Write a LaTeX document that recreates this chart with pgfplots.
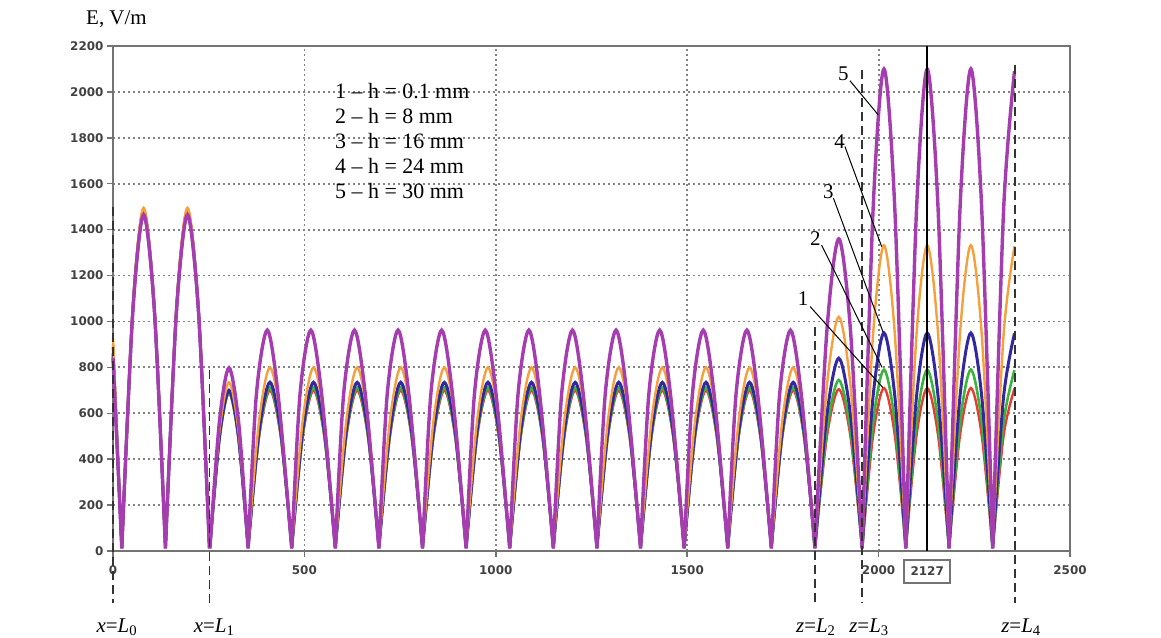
\documentclass[border=0pt]{standalone}
\usepackage{fontspec}
\setmainfont{Liberation Serif}
\newfontfamily\tickfont{DejaVu Sans}
\usepackage{pgfplots}
\pgfplotsset{compat=1.18}
\usepackage{pgfplotstable}

\definecolor{cr}{RGB}{230,60,50}
\definecolor{cg}{RGB}{60,180,60}
\definecolor{cb}{RGB}{50,40,160}
\definecolor{co}{RGB}{245,160,60}
\definecolor{cp}{RGB}{165,60,175}
\definecolor{gridgray}{RGB}{130,130,130}
\definecolor{axgray}{RGB}{115,115,115}
\definecolor{tickgray}{RGB}{65,65,65}

\pgfplotstableread{
x xp r g b o p
0 0 900 885 860 930 840
23 23 12 12 12 12 12
nan nan nan nan nan nan nan
23 23 12 12 12 12 12
51.5 51.5 1053 1046 1039 1057 1036
80 80 1490 1480 1470 1495 1465
108.5 108.5 1053 1046 1039 1057 1036
137 137 12 12 12 12 12
nan nan nan nan nan nan nan
137 137 12 12 12 12 12
165.5 165.5 1053 1046 1039 1057 1036
194.5 194.5 1490 1480 1470 1495 1465
223.5 223.5 1053 1046 1039 1057 1036
252 252 12 12 12 12 12
nan nan nan nan nan nan nan
253 253 12 12 12 12 12
278 278 486 488 495 520 564
303 303 688 690 700 735 798
328 328 486 488 495 520 564
353 353 12 12 12 12 12
nan nan nan nan nan nan nan
353.0 353.0 12 12 12 12 12
381.5 374.5 495 503 520 566 680
410.0 403.0 700 712 735 800 962
438.4 431.4 495 503 520 566 680
466.9 466.9 12 12 12 12 12
nan nan nan nan nan nan nan
466.9 466.9 12 12 12 12 12
495.4 488.4 495 503 520 566 680
523.9 516.9 700 712 735 800 962
552.3 545.3 495 503 520 566 680
580.8 580.8 12 12 12 12 12
nan nan nan nan nan nan nan
580.8 580.8 12 12 12 12 12
609.3 602.3 495 503 520 566 680
637.8 630.8 700 712 735 800 962
666.2 659.2 495 503 520 566 680
694.7 694.7 12 12 12 12 12
nan nan nan nan nan nan nan
694.7 694.7 12 12 12 12 12
723.2 716.2 495 503 520 566 680
751.7 744.7 700 712 735 800 962
780.1 773.1 495 503 520 566 680
808.6 808.6 12 12 12 12 12
nan nan nan nan nan nan nan
808.6 808.6 12 12 12 12 12
837.1 830.1 495 503 520 566 680
865.6 858.6 700 712 735 800 962
894.0 887.0 495 503 520 566 680
922.5 922.5 12 12 12 12 12
nan nan nan nan nan nan nan
922.5 922.5 12 12 12 12 12
951.0 944.0 495 503 520 566 680
979.5 972.5 700 712 735 800 962
1007.9 1000.9 495 503 520 566 680
1036.4 1036.4 12 12 12 12 12
nan nan nan nan nan nan nan
1036.4 1036.4 12 12 12 12 12
1064.9 1057.9 495 503 520 566 680
1093.4 1086.4 700 712 735 800 962
1121.8 1114.8 495 503 520 566 680
1150.3 1150.3 12 12 12 12 12
nan nan nan nan nan nan nan
1150.3 1150.3 12 12 12 12 12
1178.8 1171.8 495 503 520 566 680
1207.3 1200.3 700 712 735 800 962
1235.7 1228.7 495 503 520 566 680
1264.2 1264.2 12 12 12 12 12
nan nan nan nan nan nan nan
1264.2 1264.2 12 12 12 12 12
1292.7 1285.7 495 503 520 566 680
1321.2 1314.2 700 712 735 800 962
1349.6 1342.6 495 503 520 566 680
1378.1 1378.1 12 12 12 12 12
nan nan nan nan nan nan nan
1378.1 1378.1 12 12 12 12 12
1406.6 1399.6 495 503 520 566 680
1435.1 1428.1 700 712 735 800 962
1463.5 1456.5 495 503 520 566 680
1492.0 1492.0 12 12 12 12 12
nan nan nan nan nan nan nan
1492.0 1492.0 12 12 12 12 12
1520.5 1513.5 495 503 520 566 680
1549.0 1542.0 700 712 735 800 962
1577.4 1570.4 495 503 520 566 680
1605.9 1605.9 12 12 12 12 12
nan nan nan nan nan nan nan
1605.9 1605.9 12 12 12 12 12
1634.4 1627.4 495 503 520 566 680
1662.9 1655.9 700 712 735 800 962
1691.3 1684.3 495 503 520 566 680
1719.8 1719.8 12 12 12 12 12
nan nan nan nan nan nan nan
1719.8 1719.8 12 12 12 12 12
1748.3 1741.3 495 503 520 566 680
1776.8 1769.8 700 712 735 800 962
1805.2 1798.2 495 503 520 566 680
1833.7 1833.7 12 12 12 12 12
nan nan nan nan nan nan nan
1833.7 1833.7 12 12 12 12 12
1865.0 1865.0 498 527 594 721 962
1896.0 1896.0 705 745 840 1020 1360
1926.5 1926.5 498 527 594 721 962
1957.0 1957.0 12 12 12 12 12
nan nan nan nan nan nan nan
1957.0 1957.0 12 12 12 12 12
1985.5 1985.5 502 559 672 942 1485
2014.0 2014.0 710 790 950 1332 2100
2042.5 2042.5 502 559 672 942 1485
2071.0 2071.0 12 12 12 12 12
nan nan nan nan nan nan nan
2071.0 2071.0 12 12 12 12 12
2099.0 2099.0 502 559 672 942 1485
2127.0 2127.0 710 790 950 1332 2100
2155.5 2155.5 502 559 672 942 1485
2184.0 2184.0 12 12 12 12 12
nan nan nan nan nan nan nan
2184.0 2184.0 12 12 12 12 12
2212.5 2212.5 502 559 672 942 1485
2241.0 2241.0 710 790 950 1332 2100
2269.5 2269.5 502 559 672 942 1485
2298.0 2298.0 12 12 12 12 12
nan nan nan nan nan nan nan
2298.0 2298.0 12 12 12 12 12
2326.5 2326.5 502 559 672 942 1485
2355.0 2355.0 708 788 948 1328 2090
}\data

\begin{document}
\begin{tikzpicture}
\path[use as bounding box] (-113bp,-87bp) rectangle (1048bp,551bp);
\begin{axis}[
  at={(0,0)}, anchor=south west,
  scale only axis, width=957bp, height=505bp,
  xmin=0, xmax=2500, ymin=0, ymax=2200,
  xtick={0,500,...,2500}, ytick={0,200,...,2200},
  xtick pos=left, ytick pos=left,
  grid=major,
  major grid style={draw=gridgray, line width=1.8bp, dash pattern=on 2bp off 3bp},
  axis line style={draw=axgray, line width=2bp},
  tick style={draw=axgray, line width=1.5bp},
  tick align=outside, major tick length=6bp,
  ticklabel style={font=\tickfont\bfseries\fontsize{12}{12}\selectfont, text=tickgray},
  xticklabel style={yshift=-5bp},
  /pgf/number format/assume math mode=true,
  /pgf/number format/1000 sep={},
  scaled ticks=false,
  clip=false,
  unbounded coords=jump,
]
\addplot[cr, line width=2.4bp, smooth] table[x=x, y=r] {\data};
\addplot[cg, line width=2.6bp, smooth] table[x=x, y=g] {\data};
\addplot[cb, line width=3bp, smooth] table[x=x, y=b] {\data};
\addplot[co, line width=2.4bp, smooth] table[x=x, y=o] {\data};
\addplot[cp, line width=3.4bp, smooth] table[x=xp, y=p] {\data};

% cursor line
\draw[black, line width=2bp] (axis cs:2127,0) -- (axis cs:2127,2200);
\node[draw=axgray, line width=1.5bp, fill=white, minimum width=46bp, minimum height=23bp, inner sep=0pt,
      font=\tickfont\bfseries\fontsize{12}{12}\selectfont, text=tickgray] at (axis cs:2127,-89) {2127};

% boundary lines
\tikzset{bnd/.style={black!80, line width=1.3bp, dash pattern=on 9bp off 5bp}}
\draw[bnd] (axis cs:0,1500) -- (axis cs:0,-227);
\draw[bnd] (axis cs:253,790) -- (axis cs:253,-227);
\draw[bnd] (axis cs:1834,976) -- (axis cs:1834,-227);
\draw[bnd] (axis cs:1957,2095) -- (axis cs:1957,-227);
\draw[bnd] (axis cs:2356,2117) -- (axis cs:2356,-227);

\tikzset{lbl/.style={anchor=base, font=\fontsize{21}{21}\selectfont}}
\node[lbl] at (axis cs:10,-353) {\textit{x}=\textit{L}\textsubscript{0}};
\node[lbl] at (axis cs:264,-353) {\textit{x}=\textit{L}\textsubscript{1}};
\node[lbl] at (axis cs:1836,-353) {\textit{z}=\textit{L}\textsubscript{2}};
\node[lbl] at (axis cs:1975,-353) {\textit{z}=\textit{L}\textsubscript{3}};
\node[lbl] at (axis cs:2372,-353) {\textit{z}=\textit{L}\textsubscript{4}};

% axis title
\node[anchor=base, font=\fontsize{21}{21}\selectfont] at (axis cs:9,2292) {E, V/m};

% legend text
\tikzset{leg/.style={anchor=base west, font=\fontsize{22}{22}\selectfont, inner sep=0pt}}
\node[leg] at (axis cs:580,1969.5) {1 – h = 0.1 mm};
\node[leg] at (axis cs:580,1860.6) {2 – h = 8 mm};
\node[leg] at (axis cs:580,1751.6) {3 – h = 16 mm};
\node[leg] at (axis cs:580,1642.7) {4 – h = 24 mm};
\node[leg] at (axis cs:580,1533.8) {5 – h = 30 mm};

% curve labels
\tikzset{num/.style={font=\fontsize{21}{21}\selectfont, inner sep=0pt}}
\node[num] at (axis cs:1908,2081) {5};
\node[num] at (axis cs:1898,1783) {4};
\node[num] at (axis cs:1869,1566) {3};
\node[num] at (axis cs:1835,1363) {2};
\node[num] at (axis cs:1803,1101) {1};
\draw[black, line width=1bp] (axis cs:1925,2049) -- (axis cs:1999,1900);
\draw[black, line width=1bp] (axis cs:1912,1762) -- (axis cs:2008,1326);
\draw[black, line width=1bp] (axis cs:1882,1537) -- (axis cs:2012,952);
\draw[black, line width=1bp] (axis cs:1851,1333) -- (axis cs:2009,800);
\draw[black, line width=1bp] (axis cs:1821,1065) -- (axis cs:2011,712);
\end{axis}
\end{tikzpicture}
\end{document}
